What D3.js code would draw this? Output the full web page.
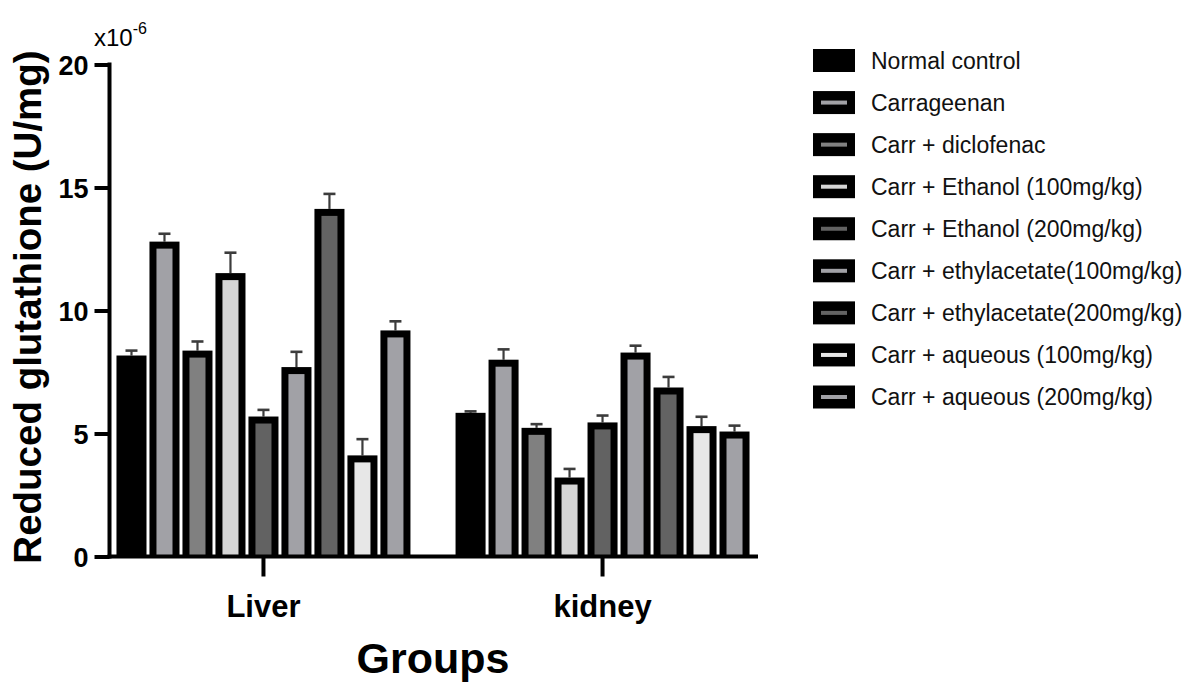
<!DOCTYPE html>
<html>
<head>
<meta charset="utf-8">
<script src="https://cdn.jsdelivr.net/npm/d3@7"></script>
<style>
  html, body { margin: 0; padding: 0; background: #fff; }
  svg { display: block; }
  text { font-family: "Liberation Sans", Arial, Helvetica, sans-serif; }
</style>
</head>
<body>
<svg id="chart" width="1194" height="689"></svg>
<script>
// Tissue groups on the x axis
const groups = ["Liver", "kidney"];

// Treatment series (legend order)
const series = [
  "Normal control",
  "Carrageenan",
  "Carr + diclofenac",
  "Carr + Ethanol (100mg/kg)",
  "Carr + Ethanol (200mg/kg)",
  "Carr + ethylacetate(100mg/kg)",
  "Carr + ethylacetate(200mg/kg)",
  "Carr + aqueous (100mg/kg)",
  "Carr + aqueous (200mg/kg)"
];

// Mean reduced glutathione (x10^-6 U/mg), one value per series
const liverMeans  = [8.17, 12.80, 8.37, 11.52, 5.69, 7.70, 14.13, 4.11, 9.19];
const kidneyMeans = [5.84, 8.00, 5.23, 3.21, 5.45, 8.29, 6.87, 5.30, 5.08];

// Standard error of the mean, one value per series
const liverErr  = [0.20, 0.32, 0.37, 0.83, 0.27, 0.62, 0.61, 0.66, 0.37];
const kidneyErr = [0.06, 0.42, 0.15, 0.35, 0.28, 0.28, 0.43, 0.38, 0.24];

// Fill shades per series
const fills = ["#000000", "#a1a1a6", "#808080", "#d5d5d5", "#626262",
               "#a1a1a6", "#636363", "#e7e7e7", "#a1a1a6"];

const yTicks = [0, 5, 10, 15, 20];

const meansByGroup = { "Liver": liverMeans, "kidney": kidneyMeans };
const errByGroup   = { "Liver": liverErr,   "kidney": kidneyErr };

const svg = d3.select("#chart");

const y = d3.scaleLinear().domain([0, 20]).range([556.5, 64.5]);
const x0 = d3.scaleBand().domain(groups).range([108, 758])
  .paddingInner(0.133).paddingOuter(0.025);
const x1 = d3.scaleBand().domain(series).range([0, x0.bandwidth()])
  .paddingInner(0.09).paddingOuter(0);

const border = 7;

// Bars
const gGroups = svg.append("g").selectAll("g")
  .data(groups).join("g")
  .attr("transform", g => `translate(${x0(g)},0)`);

gGroups.each(function (g) {
  const sel = d3.select(this);
  const rows = series.map((s, i) => ({
    s, i, v: meansByGroup[g][i], e: errByGroup[g][i]
  }));

  // error bars (drawn first so the bar border sits over their base)
  const eb = sel.selectAll("g.err").data(rows).join("g").attr("class", "err");
  eb.append("line")
    .attr("x1", d => x1(d.s) + x1.bandwidth() / 2)
    .attr("x2", d => x1(d.s) + x1.bandwidth() / 2)
    .attr("y1", d => y(d.v))
    .attr("y2", d => y(d.v + d.e))
    .attr("stroke", "#3c3c3c").attr("stroke-width", 2.2);
  eb.append("line")
    .attr("x1", d => x1(d.s) + x1.bandwidth() / 2 - 6)
    .attr("x2", d => x1(d.s) + x1.bandwidth() / 2 + 6)
    .attr("y1", d => y(d.v + d.e))
    .attr("y2", d => y(d.v + d.e))
    .attr("stroke", "#3c3c3c").attr("stroke-width", 2.6);

  // outer black body
  sel.selectAll("rect.outer").data(rows).join("rect").attr("class", "outer")
    .attr("x", d => x1(d.s))
    .attr("y", d => y(d.v))
    .attr("width", x1.bandwidth())
    .attr("height", d => y(0) - y(d.v))
    .attr("fill", "#000");

  // inner shaded fill
  sel.selectAll("rect.inner").data(rows).join("rect").attr("class", "inner")
    .attr("x", d => x1(d.s) + border)
    .attr("y", d => y(d.v) + border)
    .attr("width", x1.bandwidth() - 2 * border)
    .attr("height", d => Math.max(0, y(0) - y(d.v) - border))
    .attr("fill", d => fills[d.i]);
});

// Y axis
const axisX = 109.5;
const yAxis = svg.append("g")
  .attr("transform", `translate(${axisX},0)`)
  .call(d3.axisLeft(y).tickValues(yTicks).tickSize(15).tickSizeOuter(0).tickPadding(6));
yAxis.select(".domain").attr("stroke", "#000").attr("stroke-width", 4)
  .attr("d", `M0,${y(0) + 2}V${y(20) - 2}`);
yAxis.selectAll(".tick line").attr("stroke", "#000").attr("stroke-width", 4);
yAxis.selectAll(".tick text")
  .attr("font-family", "'Liberation Sans', Arial, sans-serif")
  .attr("font-size", 27).attr("font-weight", "bold").attr("fill", "#000")
  .attr("dy", "0.36em");

// X axis
const xAxis = svg.append("g")
  .attr("transform", `translate(0,${y(0)})`)
  .call(d3.axisBottom(x0).tickSize(20).tickSizeOuter(0).tickPadding(18));
xAxis.select(".domain").attr("stroke", "#000").attr("stroke-width", 4)
  .attr("d", `M${axisX - 2},0H758`);
xAxis.selectAll(".tick line").attr("stroke", "#000").attr("stroke-width", 4);
xAxis.selectAll(".tick text")
  .attr("font-family", "'Liberation Sans', Arial, sans-serif")
  .attr("font-size", 31).attr("font-weight", "bold").attr("fill", "#000");

// Axis multiplier
const mult = svg.append("text")
  .attr("x", 94).attr("y", 46)
  .attr("font-size", 24).attr("fill", "#000");
mult.append("tspan").text("x10");
mult.append("tspan").attr("font-size", 16).attr("dy", -12).text("-6");

// Y axis title
svg.append("text")
  .attr("transform", "translate(41,307) rotate(-90)")
  .attr("text-anchor", "middle")
  .attr("font-size", 38.5).attr("font-weight", "bold").attr("fill", "#000")
  .text("Reduced glutathione (U/mg)");

// X axis title
svg.append("text")
  .attr("x", 433).attr("y", 673)
  .attr("text-anchor", "middle")
  .attr("font-size", 43).attr("font-weight", "bold").attr("fill", "#000")
  .text("Groups");

// Legend
const legY = d3.scalePoint().domain(series).range([60.5, 397]);
const leg = svg.append("g").selectAll("g")
  .data(series).join("g")
  .attr("transform", s => `translate(813,${legY(s)})`);
leg.append("rect")
  .attr("x", 0).attr("y", -11.5).attr("width", 42).attr("height", 23)
  .attr("fill", "#000");
leg.append("rect")
  .attr("x", 8).attr("y", -2).attr("width", 26).attr("height", 4)
  .attr("fill", (s, i) => fills[i]);
leg.append("text")
  .attr("x", 58).attr("y", 8)
  .attr("font-size", 23).attr("fill", "#111")
  .text(s => s);
</script>
</body>
</html>
